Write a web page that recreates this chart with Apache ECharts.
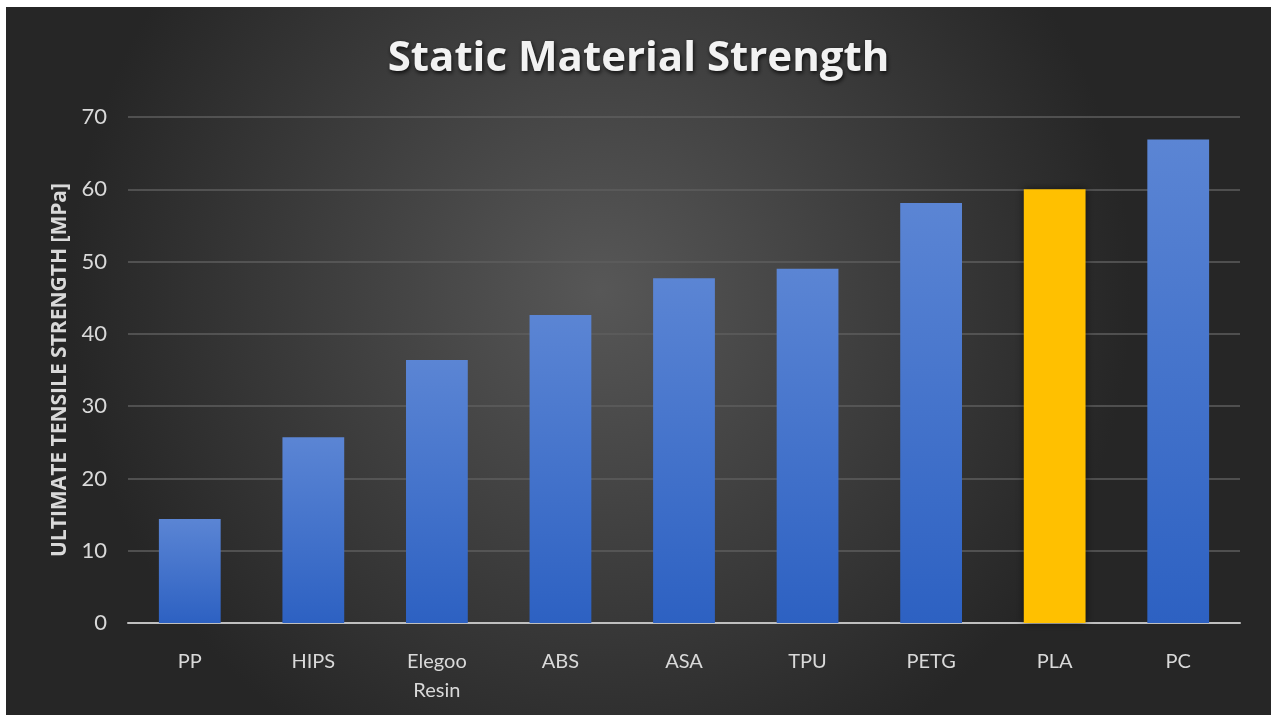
<!DOCTYPE html>
<html>
<head>
<meta charset="utf-8">
<script src="https://cdn.jsdelivr.net/npm/echarts@6/dist/echarts.min.js"></script>
<style>
  html, body { margin: 0; padding: 0; background: #ffffff; width: 1271px; height: 715px; overflow: hidden; }
  #chart { position: absolute; left: 6px; top: 7px; width: 1265px; height: 708px; }
</style>
</head>
<body>
<div id="chart"></div>
<script>
const categories = ['PP', 'HIPS', 'Elegoo\nResin', 'ABS', 'ASA', 'TPU', 'PETG', 'PLA', 'PC'];
const strengths = [14.4, 25.7, 36.4, 42.6, 47.7, 49.0, 58.1, 60.0, 66.9];
const highlighted = ['PLA'];
const yTicks = { min: 0, max: 70, interval: 10 };
const titleText = 'Static Material Strength';
const yAxisName = 'ULTIMATE TENSILE STRENGTH [MPa]';

const blueGrad = new echarts.graphic.LinearGradient(0, 0, 0, 1, [
  { offset: 0, color: '#5b85d4' },
  { offset: 1, color: '#2d61c2' }
]);

const chart = echarts.init(document.getElementById('chart'), null, { renderer: 'canvas' });
chart.setOption({
  backgroundColor: new echarts.graphic.RadialGradient(0.47, 0.4, 0.75, [
    { offset: 0, color: '#575757' },
    { offset: 1, color: '#262626' }
  ]),
  title: {
    text: titleText,
    left: 'center',
    top: 26,
    textStyle: {
      color: '#f2f2f2',
      fontFamily: 'Open Sans',
      fontWeight: 'bold',
      fontSize: 42,
      textShadowColor: 'rgba(0,0,0,0.8)',
      textShadowBlur: 4,
      textShadowOffsetX: 1,
      textShadowOffsetY: 2
    }
  },
  grid: { left: 122, right: 31, top: 110, bottom: 92, containLabel: false },
  xAxis: {
    type: 'category',
    data: categories,
    axisLine: { lineStyle: { color: '#bfbfbf', width: 2 } },
    axisTick: { show: false },
    axisLabel: {
      color: '#d9d9d9',
      fontFamily: 'Lato',
      fontSize: 20,
      margin: 24,
      lineHeight: 29
    }
  },
  yAxis: {
    type: 'value',
    min: yTicks.min,
    max: yTicks.max,
    interval: yTicks.interval,
    name: yAxisName,
    nameLocation: 'middle',
    nameGap: 57,
    nameTextStyle: {
      color: '#d9d9d9',
      fontFamily: 'Open Sans',
      fontWeight: 'bold',
      fontSize: 21
    },
    axisLine: { show: false },
    axisTick: { show: false },
    axisLabel: {
      color: '#d9d9d9',
      fontFamily: 'Lato',
      fontSize: 22,
      margin: 21
    },
    splitLine: { lineStyle: { color: '#5e5e5e', width: 1.5 } }
  },
  series: [{
    type: 'bar',
    barCategoryGap: '50%',
    data: strengths.map((v, i) => ({
      value: v,
      itemStyle: highlighted.includes(categories[i])
        ? { color: '#ffc000' }
        : { color: blueGrad }
    })),
    itemStyle: {
      shadowColor: 'rgba(0,0,0,0.55)',
      shadowBlur: 8,
      shadowOffsetX: 0,
      shadowOffsetY: 0
    },
    z: 3
  }]
});
</script>
</body>
</html>
